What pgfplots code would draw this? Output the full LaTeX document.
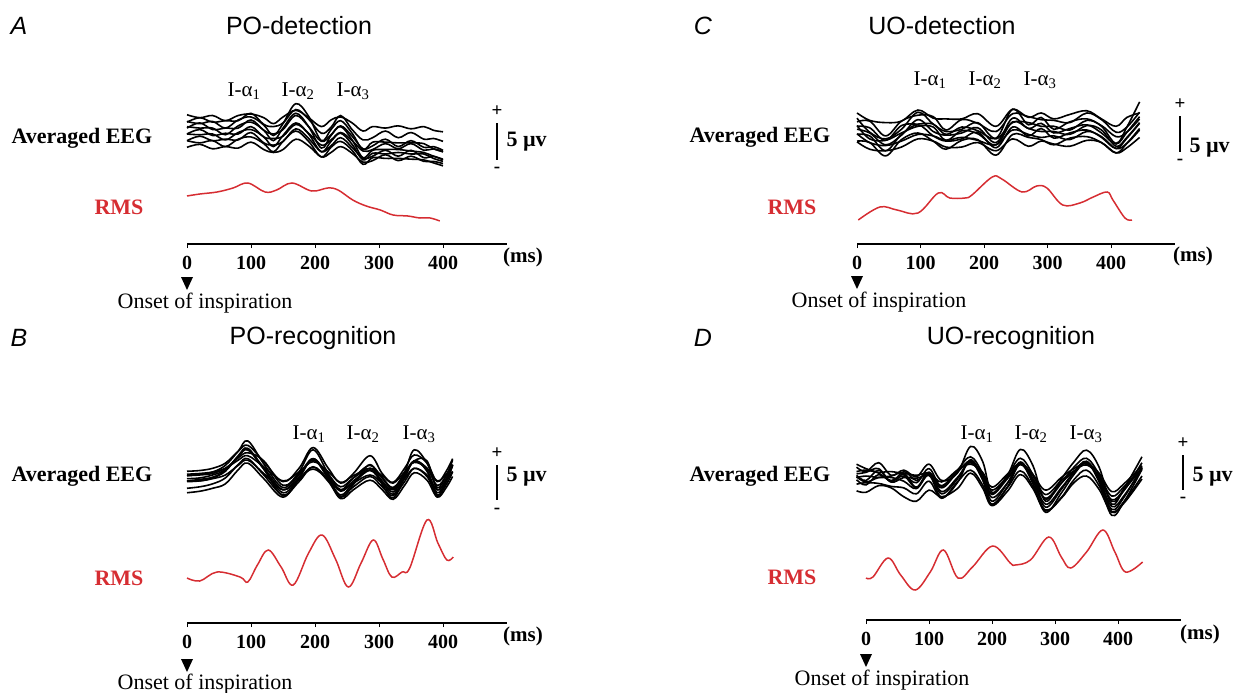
\documentclass[border=0pt]{standalone}
\usepackage{fontspec}
\setmainfont{Liberation Serif}
\setsansfont{Liberation Sans}
\usepackage{pgfplots}
\usepackage{pgfplotstable}
\pgfplotsset{compat=1.18}
\definecolor{rmsred}{RGB}{214,45,50}

% ---------- Panel A : PO-detection ----------
\pgfplotstableread{
t s1 s2 s3 s4 s5 s6 s7 s8 s9 s10
0 2.6 1.6 1.7 0.8 1.0 0.0 0.0 -0.9 -0.9 -1.8
20 2.2 2.2 1.4 1.5 0.8 0.6 -0.1 -0.3 -1.2 -1.4
40 2.5 1.6 1.7 0.6 0.8 -0.2 0.0 -0.9 -0.9 -2.0
60 1.8 1.8 0.8 0.8 -0.1 0.1 -0.8 -0.7 -1.7 -1.7
80 2.5 1.8 1.9 0.8 1.1 0.0 0.2 -0.8 -0.7 -1.9
100 2.7 2.8 2.3 1.9 1.6 1.0 0.6 0.2 -0.4 -1.1
120 2.2 1.3 1.2 0.5 0.5 -0.4 -0.4 -1.2 -1.3 -2.1
135 1.4 1.0 -0.2 0.0 -0.9 -0.6 -1.7 -1.5 -2.4 -2.5
150 2.3 1.5 1.4 0.6 0.8 -0.3 -0.2 -1.0 -1.0 -2.1
170 3.2 3.3 4.1 2.5 2.8 1.3 1.5 0.7 0.4 -0.7
190 2.2 2.0 2.4 1.0 1.0 0.1 0.0 -0.6 -1.0 -1.6
210 1.0 0.1 -0.9 -1.0 -1.9 -1.5 -2.4 -2.4 -3.1 -3.1
225 1.9 0.9 0.6 -0.1 -0.2 -0.8 -1.0 -1.6 -1.8 -2.5
240 2.3 2.5 1.8 1.1 1.0 0.2 0.1 -0.5 -1.0 -1.7
258 1.5 0.6 0.1 -0.3 -0.8 -0.9 -1.4 -1.8 -2.2 -2.6
275 0.4 -0.8 -2.1 -2.0 -3.2 -2.3 -3.5 -3.3 -4.1 -3.8
290 1.0 -0.5 -1.1 -1.6 -2.2 -2.1 -2.6 -3.0 -3.2 -3.6
310 0.8 0.4 -1.1 -0.7 -2.1 -1.3 -2.7 -2.2 -3.3 -2.8
330 1.1 -0.5 -1.2 -1.7 -2.1 -2.0 -2.5 -3.0 -3.3 -3.6
350 0.7 0.2 -1.2 -0.9 -2.3 -1.3 -2.7 -2.2 -3.4 -3.0
370 1.0 -0.7 -1.3 -1.8 -2.5 -2.2 -2.7 -3.2 -3.5 -3.7
385 0.5 -0.6 -2.0 -1.7 -3.0 -2.0 -3.3 -3.0 -3.9 -3.7
400 0.3 -1.0 -2.4 -2.2 -3.4 -2.4 -3.7 -3.5 -4.3 -4.0
}\eegA
\pgfplotstableread{
t r
0 4.8
20 5.0
47 5.2
72 5.6
95 6.1
122 5.2
140 5.4
164 6.1
195 5.3
220 5.6
236 5.4
259 4.4
280 3.8
302 3.4
322 2.9
345 2.8
364 2.6
380 2.6
395 2.3
}\rmsA

% ---------- Panel B : PO-recognition ----------
\pgfplotstableread{
t s1 s2 s3 s4 s5 s6 s7 s8 s9 s10
0 0.1 -0.5 -0.5 -0.9 -1.3 -1.2 -2.2 -0.3 -1.2 -2.8
20 0.2 -0.3 -0.4 -0.8 -1.2 -1.2 -2.0 -0.2 -1.0 -2.6
40 0.5 0.0 -0.2 -0.4 -0.8 -0.9 -1.6 0.0 -0.7 -2.2
60 1.2 0.9 0.5 0.3 0.1 -0.4 -0.8 0.5 0.2 -1.6
80 2.8 2.8 1.9 2.1 2.2 0.9 1.0 1.6 2.1 0.3
95 3.6 4.2 2.6 3.0 3.2 1.6 1.8 2.2 3.0 1.2
120 1.4 1.1 1.5 0.6 0.4 -0.2 -0.4 0.7 0.4 -0.9
150 -1.3 -2.1 -1.8 -2.4 -3.2 -2.4 -3.1 -1.2 -2.8 -3.4
175 0.5 0.0 -0.2 -0.4 -0.8 -0.9 -1.3 0.0 -0.7 -1.0
197 3.3 3.0 1.6 1.8 1.8 0.7 0.7 1.4 1.7 0.4
220 0.6 -0.1 -0.3 -0.5 -0.6 -0.9 -1.2 0.1 -0.8 -1.1
240 -1.5 -2.4 -2.0 -2.6 -3.4 -2.5 -3.3 -1.4 -3.1 -3.6
260 -0.2 -0.8 -0.8 -1.2 -1.7 -1.5 -2.0 -0.5 -1.5 -2.4
286 2.2 0.9 0.5 0.3 1.0 -0.4 -0.6 0.5 0.2 -1.1
305 -0.2 -0.8 -0.8 -1.2 -1.7 -1.5 -2.0 -0.5 -1.5 -2.4
322 -1.4 -2.3 -2.1 -2.7 -3.5 -2.4 -3.2 -1.5 -3.0 -3.7
340 0.5 0.0 -0.2 -0.4 -0.8 -0.9 -1.3 0.0 -0.7 -1.8
355 2.3 3.0 1.5 1.5 1.5 0.5 0.5 1.3 1.5 -0.1
375 1.2 1.2 0.5 1.5 0.1 -0.4 -0.6 0.5 0.2 -1.1
391 -1.3 -2.1 -1.8 -2.4 -3.2 -2.4 -3.1 -1.2 -2.8 -3.4
405 0.1 -0.5 -0.5 -0.9 -1.3 -1.2 -1.7 -0.3 -1.2 -2.1
415 1.8 1.6 1.0 1.0 0.9 0.1 0.0 0.9 0.9 -0.6
}\eegB
\pgfplotstableread{
t r
0 4.5
20 4.2
47 5.1
83 4.6
95 4.1
110 5.8
127 7.3
147 5.6
166 3.8
190 7.0
211 8.8
232 6.4
252 3.6
272 6.0
291 8.3
306 6.4
320 4.6
336 5.1
348 5.5
375 10.3
392 8.0
406 6.3
416 6.6
}\rmsB

% ---------- Panel C : UO-detection ----------
\pgfplotstableread{
t s1 s2 s3 s4 s5 s6 s7 s8 s9 s10
0 2.3 1.1 1.6 0.5 0.1 0.6 -0.6 -0.5 -1.5 -1.6
20 1.3 1.2 -0.3 0.3 -0.4 -1.2 -0.8 -1.7 -1.7 -2.6
45 1.0 -0.8 -1.2 -1.4 -2.0 -1.4 -2.8 -2.1 -3.5 -2.8
70 1.2 1.2 0.1 0.6 -0.7 -0.4 -0.6 -1.5 -1.3 -2.3
96 2.7 2.0 2.4 0.8 1.4 0.5 0.7 -0.6 -0.4 -1.2
120 1.6 1.8 0.8 0.8 -0.2 0.4 -0.8 -0.8 -1.5 -1.5
140 1.5 0.0 -0.2 -0.6 -0.7 -1.4 -1.5 -1.4 -2.6 -2.3
165 1.5 1.4 0.1 0.4 -0.4 -0.1 -1.2 -1.0 -1.4 -2.3
190 2.2 0.9 1.0 -0.1 0.3 -0.5 -0.3 -1.4 -1.3 -1.7
219 0.5 -0.2 -1.1 -1.2 -1.7 -2.0 -2.4 -2.0 -3.4 -2.8
245 2.8 2.2 2.8 1.0 1.6 1.1 0.4 0.0 -0.6 -1.2
270 1.7 1.8 0.7 1.0 0.2 0.2 -0.8 -0.6 -1.0 -2.2
290 2.3 1.4 1.7 0.5 0.9 -0.2 0.2 -1.0 -1.3 -1.5
310 1.5 1.3 0.1 0.5 -0.4 -0.2 -1.1 -0.8 -2.0 -1.9
335 2.1 1.0 1.1 0.0 0.2 -0.6 -0.4 -1.3 -1.1 -2.2
362 2.6 2.3 1.5 1.3 0.7 0.6 0.0 -0.2 -0.9 -1.4
385 1.5 1.4 0.5 0.6 -0.4 0.0 -1.0 -0.9 -1.7 -1.7
408 0.5 -0.3 -1.8 -0.9 -1.9 -2.2 -2.5 -2.5 -3.1 -3.1
425 1.7 0.4 0.4 -0.3 -0.3 -1.0 -1.1 -1.8 -1.8 -2.4
445 2.3 2.4 3.8 1.5 1.8 1.0 0.9 0.0 0.2 -1.0
}\eegC
\pgfplotstableread{
t r
2 2.4
36 3.7
63 3.4
96 3.1
128 5.1
146 4.6
170 4.6
181 4.9
213 6.7
228 6.5
260 5.2
283 5.8
299 5.6
324 3.9
351 4.1
372 4.7
394 5.2
403 4.4
422 2.6
433 2.4
}\rmsC

% ---------- Panel D : UO-recognition ----------
\pgfplotstableread{
t s1 s2 s3 s4 s5 s6 s7 s8 s9 s10
-15 1.6 1.0 0.5 0.2 2.0 -0.1 -0.7 0.7 0.3 -1.6
0 1.0 1.2 -0.2 0.4 1.4 -0.8 -0.5 0.9 -0.4 -1.8
20 2.2 0.9 1.2 0.2 0.8 0.6 -0.6 1.4 0.2 -0.9
40 0.5 1.0 -0.4 0.2 -0.2 -0.3 -1.0 -0.4 0.4 -1.2
60 1.2 0.6 1.0 -0.3 0.7 0.4 -1.2 0.2 0.8 -2.4
80 0.3 -0.5 -0.2 -1.3 0.5 -1.2 -2.0 0.1 -1.1 -3.0
100 2.0 1.4 0.9 0.6 0.8 0.5 -0.3 0.5 0.9 -1.5
120 -0.2 -1.0 -1.2 -2.0 -0.4 -2.5 -2.6 -0.9 -1.7 -2.4
145 0.8 1.2 0.9 0.0 1.2 -0.5 -0.4 1.0 0.2 -1.3
166 4.4 3.0 2.4 2.5 2.0 2.6 1.2 2.2 2.3 0.8
185 2.4 0.8 0.0 0.3 0.9 -0.1 -0.8 0.5 0.4 -1.2
200 -1.8 -2.0 -2.1 -3.0 -1.1 -3.5 -3.4 -1.5 -2.5 -3.6
225 0.6 0.5 0.1 -0.5 0.7 -1.0 -1.1 0.3 -0.5 -1.6
245 4.0 2.8 2.0 2.3 2.1 2.0 1.1 2.0 2.0 0.6
265 1.8 0.6 0.0 -0.2 0.6 -0.6 -1.0 0.4 0.0 -1.3
285 -3.0 -2.7 -2.6 -3.8 -1.5 -4.5 -4.2 -2.1 -3.4 -4.3
310 0.0 -0.6 -0.5 -1.4 0.2 -1.9 -2.5 -0.2 -1.2 -2.6
330 2.3 1.6 1.0 0.9 1.4 0.6 -0.1 1.1 0.9 -0.5
350 3.9 2.8 2.1 2.4 2.1 2.2 1.2 1.9 2.3 0.4
370 1.6 0.6 0.2 -0.2 0.8 -0.4 -0.9 0.4 0.1 -1.4
390 -3.4 -3.0 -2.8 -4.1 -1.7 -4.9 -4.4 -2.3 -3.7 -4.5
410 -1.2 -1.5 -1.4 -2.4 -0.6 -3.0 -3.0 -1.0 -2.2 -3.2
438 3.0 2.2 1.5 1.6 1.8 1.3 0.4 1.5 1.4 0.0
}\eegD
\pgfplotstableread{
t r
0 4.2
11 4.3
35 6.2
55 4.5
78 3.0
102 4.8
123 7.0
146 4.2
169 5.3
201 7.4
229 5.7
237 5.5
261 6.0
290 8.3
310 6.3
325 5.2
350 6.8
376 9.0
395 6.8
412 4.8
439 5.8
}\rmsD

\pgfplotsset{
  eegax/.style={hide axis, clip=false, anchor=origin, scale only axis,
    y=7.4pt, xmin=-20, xmax=460, ymin=-6, ymax=6},
  rmsax/.style={clip=false, anchor=origin, scale only axis,
    y=10pt, xmin=0, xmax=500, ymin=0, ymax=11,
    axis x line*=bottom, axis y line=none,
    xtick={0,100,200,300,400}, xticklabels={0,100,200,300,400},
    tick align=outside, major tick length=4pt,
    xticklabel style={font=\fontsize{20}{20}\selectfont\bfseries, yshift=-5pt},
    x axis line style={line width=1.6pt, -},
    every tick/.style={black, line width=1pt}},
  eeg/.style={black, line width=1.6pt, smooth, tension=0.6, mark=none},
  rms/.style={rmsred, line width=1.5pt, smooth, tension=0.6, mark=none},
}

\newcommand\tf{\fontsize{22}{24}\selectfont}
\newcommand\af{\fontsize{21}{24}\selectfont}
\newcommand\ttl{\sffamily\fontsize{25}{28}\selectfont}
\newcommand\pmf{\fontsize{19}{19}\selectfont\bfseries}

\begin{document}
\begin{tikzpicture}
\path[use as bounding box] (0pt,0pt) rectangle (1234pt,-693pt);

% ===== Panel A =====
\begin{axis}[eegax, x=0.64pt, at={(187pt,-134pt)}]
\pgfplotsinvokeforeach{1,...,10}{\addplot[eeg] table[x=t,y=s#1]{\eegA};}
\end{axis}
\begin{axis}[rmsax, x=0.64pt, at={(187pt,-244pt)}]
\addplot[rms] table[x=t,y=r]{\rmsA};
\end{axis}
\node[font=\ttl\itshape] at (19pt,-26pt) {A};
\node[font=\ttl] at (299pt,-26pt) {PO-detection};
\node[font=\af] at (244pt,-91pt) {I-α\textsubscript{1}};
\node[font=\af] at (298pt,-91pt) {I-α\textsubscript{2}};
\node[font=\af] at (353pt,-91pt) {I-α\textsubscript{3}};
\node[anchor=west, font=\tf\bfseries] at (8pt,-138pt) {Averaged EEG};
\node[font=\tf\bfseries, text=rmsred] at (119pt,-207pt) {RMS};
\draw[line width=1.2pt] (497pt,-123pt) -- (497pt,-160pt);
\node[font=\pmf] at (497pt,-111pt) {+};
\node[font=\pmf] at (497pt,-170pt) {-};
\node[anchor=west, font=\tf\bfseries] at (503pt,-142pt) {5 µv};
\node[font=\fontsize{21}{22}\selectfont\bfseries] at (523pt,-257pt) {(ms)};
\fill (181pt,-277pt) -- (193pt,-277pt) -- (187pt,-290pt) -- cycle;
\node[font=\tf] at (205pt,-303pt) {Onset of inspiration};

% ===== Panel B =====
\begin{axis}[eegax, x=0.64pt, at={(187pt,-472pt)}]
\pgfplotsinvokeforeach{1,...,10}{\addplot[eeg] table[x=t,y=s#1]{\eegB};}
\end{axis}
\begin{axis}[rmsax, x=0.64pt, at={(187pt,-623pt)}]
\addplot[rms] table[x=t,y=r]{\rmsB};
\end{axis}
\node[font=\ttl\itshape] at (19pt,-338pt) {B};
\node[font=\ttl] at (313pt,-338pt) {PO-recognition};
\node[font=\af] at (309pt,-434pt) {I-α\textsubscript{1}};
\node[font=\af] at (363pt,-434pt) {I-α\textsubscript{2}};
\node[font=\af] at (419pt,-434pt) {I-α\textsubscript{3}};
\node[anchor=west, font=\tf\bfseries] at (8pt,-476pt) {Averaged EEG};
\node[font=\tf\bfseries, text=rmsred] at (119pt,-578pt) {RMS};
\draw[line width=1.2pt] (497pt,-465pt) -- (497pt,-500pt);
\node[font=\pmf] at (497pt,-453pt) {+};
\node[font=\pmf] at (497pt,-511pt) {-};
\node[anchor=west, font=\tf\bfseries] at (503pt,-477pt) {5 µv};
\node[font=\fontsize{21}{22}\selectfont\bfseries] at (523pt,-636pt) {(ms)};
\fill (181pt,-659pt) -- (193pt,-659pt) -- (187pt,-672pt) -- cycle;
\node[font=\tf] at (205pt,-684pt) {Onset of inspiration};

% ===== Panel C =====
\begin{axis}[eegax, x=0.635pt, at={(857pt,-130pt)}]
\pgfplotsinvokeforeach{1,...,10}{\addplot[eeg] table[x=t,y=s#1]{\eegC};}
\end{axis}
\begin{axis}[rmsax, x=0.635pt, at={(857pt,-244pt)}]
\addplot[rms] table[x=t,y=r]{\rmsC};
\end{axis}
\node[font=\ttl\itshape] at (703pt,-26pt) {C};
\node[font=\ttl] at (942pt,-26pt) {UO-detection};
\node[font=\af] at (930pt,-80pt) {I-α\textsubscript{1}};
\node[font=\af] at (985pt,-80pt) {I-α\textsubscript{2}};
\node[font=\af] at (1040pt,-80pt) {I-α\textsubscript{3}};
\node[anchor=west, font=\tf\bfseries] at (686pt,-137pt) {Averaged EEG};
\node[font=\tf\bfseries, text=rmsred] at (792pt,-207pt) {RMS};
\draw[line width=1.2pt] (1180pt,-116pt) -- (1180pt,-152pt);
\node[font=\pmf] at (1180pt,-104pt) {+};
\node[font=\pmf] at (1180pt,-162pt) {-};
\node[anchor=west, font=\tf\bfseries] at (1186pt,-148pt) {5 µv};
\node[font=\fontsize{21}{22}\selectfont\bfseries] at (1193pt,-256pt) {(ms)};
\fill (851pt,-276pt) -- (863pt,-276pt) -- (857pt,-289pt) -- cycle;
\node[font=\tf] at (879pt,-302pt) {Onset of inspiration};

% ===== Panel D =====
\begin{axis}[eegax, x=0.63pt, at={(866pt,-479pt)}]
\pgfplotsinvokeforeach{1,...,10}{\addplot[eeg] table[x=t,y=s#1]{\eegD};}
\end{axis}
\begin{axis}[rmsax, x=0.63pt, at={(866pt,-620pt)}]
\addplot[rms] table[x=t,y=r]{\rmsD};
\end{axis}
\node[font=\ttl\itshape] at (703pt,-338pt) {D};
\node[font=\ttl] at (1011pt,-338pt) {UO-recognition};
\node[font=\af] at (977pt,-434pt) {I-α\textsubscript{1}};
\node[font=\af] at (1031pt,-434pt) {I-α\textsubscript{2}};
\node[font=\af] at (1086pt,-434pt) {I-α\textsubscript{3}};
\node[anchor=west, font=\tf\bfseries] at (686pt,-476pt) {Averaged EEG};
\node[font=\tf\bfseries, text=rmsred] at (792pt,-577pt) {RMS};
\draw[line width=1.2pt] (1183pt,-455pt) -- (1183pt,-490pt);
\node[font=\pmf] at (1183pt,-443pt) {+};
\node[font=\pmf] at (1183pt,-500pt) {-};
\node[anchor=west, font=\tf\bfseries] at (1189pt,-477pt) {5 µv};
\node[font=\fontsize{21}{22}\selectfont\bfseries] at (1200pt,-634pt) {(ms)};
\fill (860pt,-654pt) -- (872pt,-654pt) -- (866pt,-667pt) -- cycle;
\node[font=\tf] at (882pt,-680pt) {Onset of inspiration};
\end{tikzpicture}
\end{document}
